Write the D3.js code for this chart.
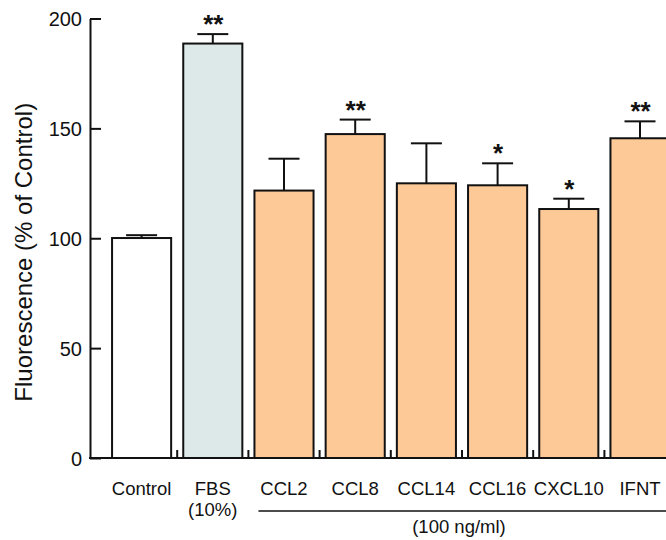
<!DOCTYPE html>
<html>
<head>
<meta charset="utf-8">
<script src="https://cdn.jsdelivr.net/npm/d3@7"></script>
<style>
  html, body { margin: 0; padding: 0; background: #ffffff; }
  svg { display: block; font-family: "Liberation Sans", Arial, Helvetica, sans-serif; }
</style>
</head>
<body>
<svg id="chart" width="666" height="540"></svg>
<script>
const categories = ["Control", "FBS", "CCL2", "CCL8", "CCL14", "CCL16", "CXCL10", "IFNT"];
const subLabels = ["", "(10%)", "", "", "", "", "", ""];
const groups = ["control", "fbs", "treat", "treat", "treat", "treat", "treat", "treat"];
const meanValues = [100.1, 188.6, 121.7, 147.4, 125.0, 124.1, 113.3, 145.5];
const errorValues = [1.3, 4.3, 14.5, 6.6, 18.2, 10.0, 4.7, 7.7];
const significance = ["", "**", "", "**", "", "*", "*", "**"];
const yTicks = [0, 50, 100, 150, 200];
const yTitle = "Fluorescence (% of Control)";
const groupLabel = "(100 ng/ml)";

const data = categories.map((c, i) => ({
  cat: c, sub: subLabels[i], group: groups[i], mean: meanValues[i], err: errorValues[i], sig: significance[i]
}));

const svg = d3.select("#chart");
const axisX0 = 90, axisRight = 666;

const y = d3.scaleLinear().domain([0, 200]).range([458, 18.5]);
const x = d3.scaleBand().domain(categories).range([106, 675.6]).paddingInner(0.17).paddingOuter(0.085);
const color = d3.scaleOrdinal().domain(["control", "fbs", "treat"]).range(["#ffffff", "#dde8e8", "#fdc997"]);

// bars
svg.append("g").selectAll("rect").data(data).join("rect")
  .attr("x", d => x(d.cat))
  .attr("y", d => y(d.mean))
  .attr("width", x.bandwidth())
  .attr("height", d => y(0) - y(d.mean))
  .attr("fill", d => color(d.group))
  .attr("stroke", "#111")
  .attr("stroke-width", 2);

// error bars
const capW = 31;
const eg = svg.append("g").attr("stroke", "#111").attr("stroke-width", 2);
data.forEach(d => {
  const cx = x(d.cat) + x.bandwidth() / 2;
  eg.append("line").attr("x1", cx).attr("x2", cx).attr("y1", y(d.mean)).attr("y2", y(d.mean + d.err));
  eg.append("line").attr("x1", cx - capW / 2).attr("x2", cx + capW / 2).attr("y1", y(d.mean + d.err)).attr("y2", y(d.mean + d.err));
});

// significance stars
svg.append("g").selectAll("text").data(data.filter(d => d.sig)).join("text")
  .attr("x", d => x(d.cat) + x.bandwidth() / 2 + 0.5)
  .attr("y", d => y(d.mean + d.err) - 1)
  .attr("text-anchor", "middle")
  .attr("font-size", 26)
  .attr("font-weight", "bold")
  .attr("fill", "#111")
  .text(d => d.sig);

// y axis
const yAxis = d3.axisLeft(y).tickValues(yTicks).tickSize(-11).tickPadding(8).tickSizeOuter(0);
const yg = svg.append("g").attr("transform", `translate(${axisX0},0)`).call(yAxis);
yg.select(".domain").attr("stroke", "#111").attr("stroke-width", 2);
yg.selectAll(".tick line").attr("stroke", "#111").attr("stroke-width", 2);
yg.selectAll(".tick text").attr("font-size", 20).attr("fill", "#111").attr("font-family", "Liberation Sans, Arial, sans-serif")
  .attr("x", -8).attr("dy", "0.36em");

// x axis baseline
svg.append("line").attr("x1", axisX0 - 1).attr("x2", axisRight).attr("y1", y(0)).attr("y2", y(0))
  .attr("stroke", "#111").attr("stroke-width", 2);

// boundary ticks between bars
const boundaries = categories.slice(1).map(c => x(c) - x.step() * x.paddingInner() / 2);
svg.append("g").selectAll("line").data(boundaries).join("line")
  .attr("x1", d => d).attr("x2", d => d)
  .attr("y1", y(0)).attr("y2", y(0) - 8)
  .attr("stroke", "#111").attr("stroke-width", 2);

// x labels
const xl = svg.append("g").attr("font-size", 18.5).attr("fill", "#111").attr("text-anchor", "middle");
data.forEach(d => {
  const cx = x(d.cat) + x.bandwidth() / 2;
  xl.append("text").attr("x", cx).attr("y", 495).text(d.cat);
  if (d.sub) xl.append("text").attr("x", cx).attr("y", 516).text(d.sub);
});

// group line & label
const gStart = x("CCL2") + 4;
svg.append("line").attr("x1", gStart).attr("x2", axisRight).attr("y1", 511).attr("y2", 511)
  .attr("stroke", "#111").attr("stroke-width", 1.5);
svg.append("text").attr("x", 459).attr("y", 533).attr("text-anchor", "middle")
  .attr("font-size", 18.5).attr("fill", "#111").text(groupLabel);

// y title
svg.append("text")
  .attr("transform", `translate(32, ${(y(0) + y(200)) / 2 + 14}) rotate(-90)`)
  .attr("text-anchor", "middle")
  .attr("font-size", 24)
  .attr("fill", "#111")
  .text(yTitle);
</script>
</body>
</html>
